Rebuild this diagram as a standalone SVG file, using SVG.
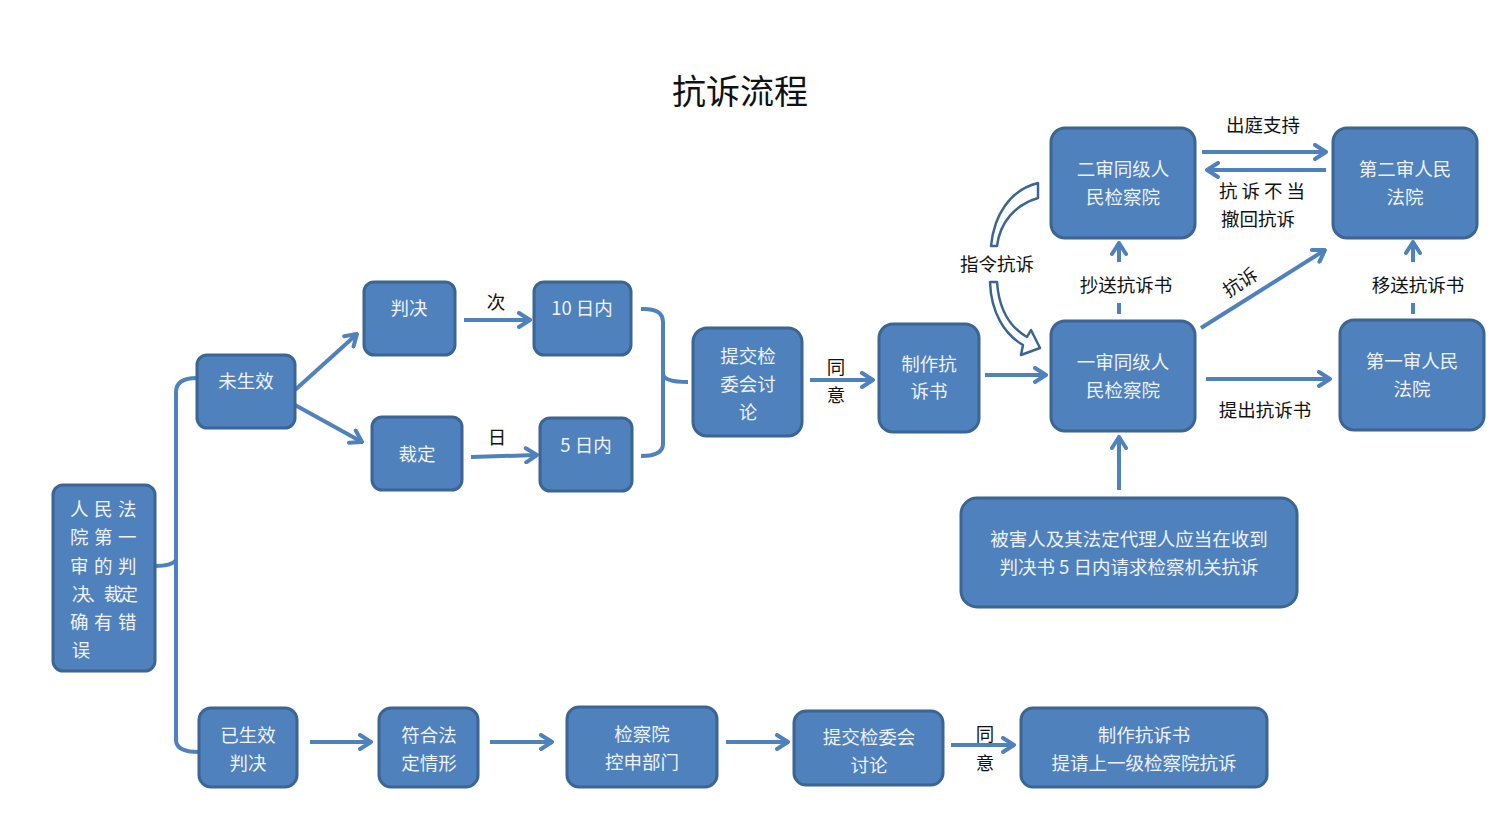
<svg xmlns="http://www.w3.org/2000/svg" width="1512" height="815" viewBox="0 0 1512 815">
<style>
.n rect{fill:#4F81BD;stroke:#3B6593;stroke-width:3}
.n text{fill:#EEF2F8;font-family:"Noto Sans CJK SC",sans-serif;font-size:18.5px;text-anchor:middle}
.c{stroke:#4F81BD;stroke-width:4;fill:none}
.l{font-family:"Noto Sans CJK SC",sans-serif;font-size:18.5px;fill:#111;text-anchor:middle}
.t{font-family:"Noto Sans CJK SC",sans-serif;font-size:34px;fill:#111;text-anchor:middle}
</style>
<defs>
<marker id="a" viewBox="0 0 16 18" refX="14" refY="9" markerWidth="16" markerHeight="18" orient="auto" markerUnits="userSpaceOnUse">
<path d="M3,2 L14,9 L3,16" fill="none" stroke="#4F81BD" stroke-width="4" stroke-linecap="round" stroke-linejoin="round"/>
</marker>
</defs>
<rect width="1512" height="815" fill="#fff"/>
<text class="t" x="740" y="104">抗诉流程</text>

<g id="connectors">
<path class="c" d="M197,378 Q176,378 176,392 L176,740 Q176,752 199,752"/>
<path class="c" d="M155,566 Q172,566 176,560"/>
<path class="c" d="M295,390 L357,334" marker-end="url(#a)"/>
<path class="c" d="M295,405 L362,442" marker-end="url(#a)"/>
<path class="c" d="M464,320 L530,320" marker-end="url(#a)"/>
<path class="c" d="M471,457 L537,455" marker-end="url(#a)"/>
<path class="c" d="M641,309 Q663,308 663,322 L663,444 Q663,456 641,456"/>
<path class="c" d="M663,374 Q664,382 688,382"/>
<path class="c" d="M810,380 L873,380" marker-end="url(#a)"/>
<path class="c" d="M985,375 L1046,375" marker-end="url(#a)"/>
<path class="c" d="M1119,314 L1119,303"/>
<path class="c" d="M1119,262 L1119,243" marker-end="url(#a)"/>
<path class="c" d="M1413,314 L1413,303"/>
<path class="c" d="M1413,262 L1413,242" marker-end="url(#a)"/>
<path class="c" d="M1201,328 L1325,250" marker-end="url(#a)"/>
<path class="c" d="M1206,379 L1330,379" marker-end="url(#a)"/>
<path class="c" d="M1202,152 L1326,152" marker-end="url(#a)"/>
<path class="c" d="M1326,170 L1207,170" marker-end="url(#a)"/>
<path class="c" d="M1119,490 L1119,437" marker-end="url(#a)"/>
<path class="c" d="M310,742 L371,742" marker-end="url(#a)"/>
<path class="c" d="M490,742 L552,742" marker-end="url(#a)"/>
<path class="c" d="M726,742 L788,742" marker-end="url(#a)"/>
<path class="c" d="M951,745 L1014,745" marker-end="url(#a)"/>
<path d="M1038,183 C1010,190 994,215 991,246 L997,246 C1000,222 1015,205 1038,198 Z" fill="#fff" stroke="#3B6593" stroke-width="2.5" stroke-linejoin="round"/>
<path d="M990,282 C991,312 1004,334 1023,345 L1021,355 L1040,348 L1031,330 L1027,337 C1011,328 999,310 997,282 Z" fill="#fff" stroke="#3B6593" stroke-width="2.5" stroke-linejoin="round"/>
<text class="l" x="496" y="309">次</text>
<text class="l" x="497" y="444">日</text>
<text class="l" x="836" y="374">同</text>
<text class="l" x="836" y="402">意</text>
<text class="l" x="985" y="741">同</text>
<text class="l" x="985" y="770">意</text>
<text class="l" x="997" y="271">指令抗诉</text>
<text class="l" x="1126" y="292">抄送抗诉书</text>
<text class="l" x="1418" y="292">移送抗诉书</text>
<text class="l" x="1263" y="132">出庭支持</text>
<text class="l" x="1264" y="198" letter-spacing="4">抗诉不当</text>
<text class="l" x="1258" y="226">撤回抗诉</text>
<text class="l" x="1265" y="417">提出抗诉书</text>
<text class="l" x="1240" y="289" transform="rotate(-33 1240 282)">抗诉</text>
</g>

<g id="n-court1" class="n"><rect x="53" y="485" width="102" height="186" rx="10"/>
<text x="106" y="516" letter-spacing="5.5">人民法</text>
<text x="106" y="544" letter-spacing="5.5">院第一</text>
<text x="106" y="573" letter-spacing="5.5">审的判</text>
<text x="105" y="601" textLength="66" lengthAdjust="spacing">决、裁定</text>
<text x="106" y="629" letter-spacing="5.5">确有错</text>
<text x="81" y="657">误</text></g>
<g id="n-wsx" class="n"><rect x="197" y="355" width="98" height="73" rx="10"/><text x="246" y="388">未生效</text></g>
<g id="n-pj" class="n"><rect x="364" y="282" width="91" height="73" rx="10"/><text x="409" y="315">判决</text></g>
<g id="n-cd" class="n"><rect x="372" y="417" width="90" height="73" rx="10"/><text x="417" y="461">裁定</text></g>
<g id="n-10" class="n"><rect x="534" y="282" width="97" height="73" rx="10"/><text x="582" y="315">10 日内</text></g>
<g id="n-5" class="n"><rect x="540" y="418" width="92" height="73" rx="10"/><text x="586" y="452">5 日内</text></g>
<g id="n-tj" class="n"><rect x="693" y="328" width="109" height="108" rx="14"/><text x="748" y="363">提交检</text><text x="748" y="391">委会讨</text><text x="748" y="419">论</text></g>
<g id="n-zz" class="n"><rect x="879" y="324" width="100" height="108" rx="14"/><text x="929" y="371">制作抗</text><text x="929" y="398">诉书</text></g>
<g id="n-yjc" class="n"><rect x="1051" y="321" width="144" height="110" rx="14"/><text x="1123" y="369">一审同级人</text><text x="1123" y="397">民检察院</text></g>
<g id="n-ejc" class="n"><rect x="1051" y="128" width="144" height="110" rx="14"/><text x="1123" y="176">二审同级人</text><text x="1123" y="204">民检察院</text></g>
<g id="n-efy" class="n"><rect x="1333" y="128" width="144" height="110" rx="14"/><text x="1405" y="176">第二审人民</text><text x="1405" y="204">法院</text></g>
<g id="n-yfy" class="n"><rect x="1340" y="320" width="144" height="110" rx="14"/><text x="1412" y="368">第一审人民</text><text x="1412" y="396">法院</text></g>
<g id="n-bhr" class="n"><rect x="961" y="498" width="336" height="109" rx="16"/><text x="1129" y="546">被害人及其法定代理人应当在收到</text><text x="1129" y="574">判决书 5 日内请求检察机关抗诉</text></g>
<g id="n-ysx" class="n"><rect x="199" y="708" width="98" height="79" rx="12"/><text x="248" y="742">已生效</text><text x="248" y="770">判决</text></g>
<g id="n-fh" class="n"><rect x="379" y="708" width="99" height="79" rx="12"/><text x="429" y="742">符合法</text><text x="429" y="770">定情形</text></g>
<g id="n-ks" class="n"><rect x="567" y="707" width="150" height="80" rx="12"/><text x="642" y="741">检察院</text><text x="642" y="769">控申部门</text></g>
<g id="n-tj2" class="n"><rect x="794" y="711" width="149" height="74" rx="12"/><text x="869" y="744">提交检委会</text><text x="869" y="772">讨论</text></g>
<g id="n-zz2" class="n"><rect x="1021" y="708" width="246" height="79" rx="12"/><text x="1144" y="742">制作抗诉书</text><text x="1144" y="770">提请上一级检察院抗诉</text></g>
</svg>
